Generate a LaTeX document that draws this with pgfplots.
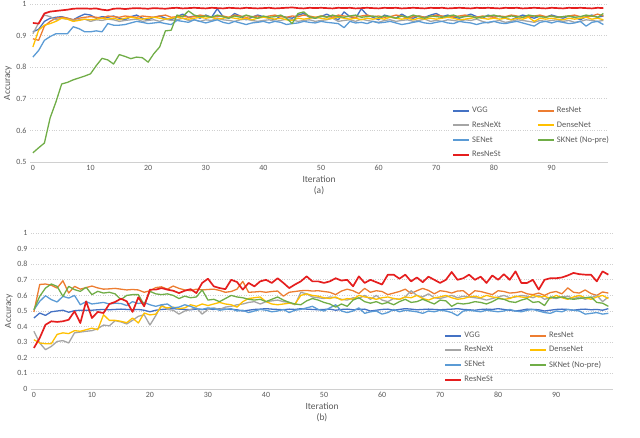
\documentclass[border=0pt]{standalone}
\usepackage{fontspec}
\setmainfont{Carlito}
\usepackage{pgfplots}
\usepackage{pgfplotstable}
\pgfplotsset{compat=1.18}

\definecolor{cVGG}{HTML}{4472C4}
\definecolor{cResNet}{HTML}{ED7D31}
\definecolor{cResNeXt}{HTML}{A5A5A5}
\definecolor{cDense}{HTML}{FFC000}
\definecolor{cSE}{HTML}{5B9BD5}
\definecolor{cSK}{HTML}{70AD47}
\definecolor{cResNeSt}{HTML}{E51E1E}
\definecolor{txt}{HTML}{595959}
\definecolor{gridc}{HTML}{D0D0D0}

% panel (a): accuracy per iteration
\pgfplotstableread{
it vgg resnet resnext dense senet sknet resnest
0 .912 .890 .906 .864 .832 .529 .940
1 .920 .885 .940 .917 .853 .545 .938
2 .945 .930 .965 .933 .885 .560 .970
3 .955 .945 .960 .938 .897 .640 .976
4 .958 .955 .950 .945 .906 .690 .978
5 .960 .958 .955 .955 .906 .747 .980
6 .955 .955 .952 .952 .906 .752 .982
7 .950 .950 .948 .945 .928 .760 .985
8 .960 .955 .950 .948 .922 .766 .986
9 .968 .958 .952 .952 .912 .772 .986
10 .965 .960 .945 .950 .912 .779 .985
11 .955 .958 .950 .952 .915 .805 .986
12 .960 .955 .948 .955 .912 .828 .982
13 .958 .962 .952 .952 .938 .823 .980
14 .962 .960 .950 .955 .933 .810 .985
15 .955 .958 .945 .950 .933 .840 .986
16 .950 .962 .948 .955 .935 .834 .984
17 .960 .960 .950 .958 .940 .827 .986
18 .965 .958 .952 .955 .945 .832 .987
19 .955 .962 .945 .952 .942 .830 .986
20 .950 .960 .948 .955 .938 .816 .985
21 .958 .958 .950 .958 .940 .843 .987
22 .962 .962 .945 .955 .942 .864 .986
23 .955 .965 .952 .952 .938 .915 .985
24 .950 .958 .948 .955 .935 .917 .987
25 .960 .960 .950 .958 .948 .965 .988
26 .968 .962 .955 .955 .945 .960 .986
27 .958 .958 .948 .952 .942 .978 .987
28 .962 .960 .950 .955 .950 .965 .988
29 .955 .965 .945 .958 .945 .960 .987
30 .965 .962 .950 .955 .940 .962 .986
31 .958 .958 .948 .958 .945 .958 .988
32 .985 .960 .955 .952 .950 .965 .987
33 .960 .962 .950 .955 .942 .960 .986
34 .955 .958 .948 .958 .938 .955 .988
35 .970 .965 .945 .955 .945 .962 .987
36 .962 .962 .950 .952 .940 .958 .986
37 .950 .958 .952 .955 .935 .965 .988
38 .958 .960 .948 .950 .940 .960 .987
39 .965 .962 .945 .955 .942 .955 .986
40 .960 .958 .948 .958 .945 .962 .987
41 .955 .962 .950 .955 .940 .958 .988
42 .950 .965 .945 .952 .945 .960 .986
43 .962 .960 .948 .955 .942 .965 .987
44 .958 .958 .952 .950 .935 .955 .988
45 .955 .962 .950 .948 .938 .938 .989
46 .965 .960 .945 .955 .940 .970 .987
47 .970 .965 .948 .952 .945 .975 .986
48 .958 .962 .950 .955 .942 .960 .988
49 .955 .958 .945 .958 .940 .955 .987
50 .960 .962 .948 .955 .945 .962 .988
51 .968 .960 .950 .952 .942 .958 .987
52 .958 .958 .955 .955 .940 .965 .986
53 .950 .965 .945 .958 .938 .960 .988
54 .975 .962 .948 .955 .925 .958 .987
55 .960 .960 .950 .952 .945 .962 .988
56 .955 .958 .945 .955 .940 .965 .986
57 .985 .962 .952 .950 .942 .958 .987
58 .965 .965 .948 .955 .938 .960 .988
59 .958 .960 .945 .952 .945 .962 .987
60 .950 .962 .942 .955 .940 .958 .986
61 .965 .958 .948 .952 .942 .962 .988
62 .960 .960 .950 .958 .945 .960 .987
63 .955 .965 .945 .955 .940 .955 .988
64 .968 .962 .948 .952 .935 .962 .986
65 .958 .955 .950 .955 .938 .958 .987
66 .955 .960 .945 .950 .942 .965 .988
67 .962 .962 .948 .955 .945 .960 .987
68 .958 .958 .952 .952 .940 .955 .986
69 .965 .960 .945 .955 .938 .962 .988
70 .970 .965 .948 .952 .942 .960 .987
71 .960 .962 .945 .955 .945 .958 .988
72 .965 .958 .950 .958 .940 .962 .986
73 .958 .960 .948 .955 .938 .965 .987
74 .955 .962 .945 .950 .945 .958 .988
75 .962 .965 .950 .952 .942 .960 .987
76 .968 .960 .948 .955 .940 .962 .986
77 .960 .958 .952 .958 .935 .955 .988
78 .955 .962 .945 .955 .940 .960 .987
79 .965 .960 .940 .952 .942 .962 .988
80 .958 .958 .945 .955 .945 .965 .987
81 .962 .962 .948 .952 .940 .960 .986
82 .955 .960 .942 .955 .938 .958 .988
83 .950 .965 .945 .950 .942 .962 .987
84 .958 .962 .950 .955 .945 .960 .988
85 .965 .958 .948 .952 .940 .958 .986
86 .960 .960 .945 .958 .935 .965 .987
87 .955 .962 .942 .945 .930 .962 .988
88 .962 .965 .948 .955 .942 .960 .987
89 .958 .960 .945 .952 .945 .958 .986
90 .965 .962 .948 .955 .940 .962 .988
91 .960 .958 .950 .952 .945 .958 .987
92 .955 .960 .945 .950 .942 .960 .986
93 .962 .962 .948 .955 .938 .962 .988
94 .958 .965 .942 .952 .940 .958 .987
95 .950 .960 .945 .955 .945 .960 .988
96 .960 .958 .950 .958 .930 .965 .987
97 .965 .962 .948 .952 .942 .962 .986
98 .958 .968 .945 .955 .945 .958 .988
99 .962 .962 .948 .950 .935 .970 .987
}\tabA

% panel (b)
\pgfplotstableread{
it vgg resnet resnext dense senet sknet resnest
0 .455 .494 .370 .316 .508 .508 .263
1 .487 .670 .295 .295 .562 .594 .327
2 .472 .673 .252 .290 .598 .647 .412
3 .495 .665 .273 .290 .573 .673 .434
4 .500 .647 .305 .350 .558 .658 .430
5 .505 .694 .310 .360 .594 .594 .434
6 .492 .615 .295 .355 .583 .658 .444
7 .502 .658 .360 .374 .600 .637 .498
8 .505 .640 .365 .370 .540 .626 .423
9 .505 .650 .370 .380 .560 .652 .562
10 .505 .660 .374 .390 .545 .605 .455
11 .508 .648 .387 .380 .550 .626 .494
12 .510 .640 .410 .476 .555 .615 .487
13 .508 .642 .405 .440 .545 .620 .545
14 .510 .645 .438 .440 .550 .610 .558
15 .512 .640 .430 .434 .548 .573 .579
16 .510 .635 .417 .425 .535 .600 .562
17 .508 .638 .440 .455 .560 .605 .494
18 .510 .635 .466 .423 .548 .605 .588
19 .505 .620 .476 .487 .555 .540 .530
20 .495 .630 .410 .475 .540 .626 .637
21 .505 .650 .470 .480 .530 .610 .637
22 .510 .655 .540 .530 .540 .605 .647
23 .512 .640 .510 .520 .545 .610 .637
24 .515 .660 .505 .525 .520 .600 .630
25 .512 .645 .480 .515 .525 .580 .615
26 .510 .635 .500 .520 .540 .595 .630
27 .508 .630 .510 .540 .530 .585 .640
28 .512 .640 .520 .530 .515 .590 .615
29 .510 .635 .480 .545 .510 .635 .680
30 .512 .638 .510 .535 .520 .570 .707
31 .510 .640 .520 .545 .515 .575 .658
32 .515 .632 .510 .555 .505 .560 .647
33 .512 .620 .525 .545 .510 .580 .640
34 .510 .625 .530 .540 .515 .600 .700
35 .508 .640 .540 .525 .500 .590 .686
36 .500 .690 .545 .560 .505 .585 .637
37 .505 .620 .555 .580 .490 .575 .680
38 .510 .622 .560 .585 .500 .570 .658
39 .512 .625 .545 .590 .510 .575 .690
40 .515 .620 .560 .560 .505 .560 .700
41 .512 .625 .565 .545 .495 .575 .680
42 .510 .628 .570 .540 .500 .590 .710
43 .508 .595 .560 .545 .510 .570 .680
44 .512 .620 .555 .550 .490 .555 .647
45 .510 .625 .540 .545 .505 .545 .670
46 .515 .630 .620 .600 .510 .540 .690
47 .512 .632 .610 .610 .520 .565 .722
48 .510 .628 .590 .600 .530 .580 .690
49 .508 .630 .585 .595 .510 .570 .690
50 .510 .625 .580 .585 .500 .555 .680
51 .512 .620 .590 .580 .520 .545 .690
52 .505 .605 .585 .590 .540 .525 .710
53 .510 .628 .575 .570 .500 .545 .695
54 .512 .640 .570 .580 .490 .530 .700
55 .508 .630 .585 .575 .500 .570 .658
56 .510 .612 .580 .600 .520 .585 .722
57 .512 .645 .600 .590 .485 .560 .680
58 .500 .620 .575 .585 .495 .550 .700
59 .505 .630 .600 .575 .500 .560 .685
60 .510 .625 .570 .585 .480 .545 .670
61 .512 .605 .560 .590 .490 .555 .733
62 .505 .615 .580 .580 .510 .540 .733
63 .510 .625 .575 .575 .495 .560 .707
64 .515 .640 .590 .590 .505 .575 .733
65 .512 .612 .630 .585 .500 .555 .690
66 .508 .630 .600 .600 .495 .560 .715
67 .510 .645 .590 .580 .485 .575 .685
68 .512 .632 .610 .570 .500 .560 .720
69 .510 .610 .585 .585 .495 .545 .700
70 .508 .630 .580 .590 .505 .570 .680
71 .510 .625 .590 .600 .500 .565 .700
72 .512 .615 .600 .585 .490 .530 .750
73 .515 .628 .585 .575 .470 .550 .700
74 .510 .630 .595 .580 .500 .545 .710
75 .508 .600 .590 .590 .505 .550 .733
76 .505 .630 .585 .595 .500 .560 .700
77 .510 .625 .580 .585 .495 .555 .720
78 .512 .615 .570 .600 .505 .545 .680
79 .510 .605 .580 .590 .500 .560 .728
80 .515 .630 .590 .585 .495 .580 .700
81 .510 .625 .600 .575 .500 .575 .736
82 .505 .615 .585 .580 .510 .560 .700
83 .500 .618 .590 .595 .500 .555 .754
84 .505 .625 .600 .590 .495 .570 .680
85 .512 .610 .595 .585 .505 .580 .680
86 .510 .605 .585 .600 .510 .555 .700
87 .508 .615 .600 .590 .500 .560 .637
88 .500 .600 .575 .595 .490 .535 .700
89 .505 .618 .585 .580 .485 .590 .710
90 .510 .625 .580 .600 .500 .585 .710
91 .512 .610 .590 .585 .495 .590 .715
92 .510 .648 .595 .575 .510 .580 .728
93 .505 .620 .580 .590 .505 .575 .744
94 .510 .615 .590 .600 .500 .580 .736
95 .512 .635 .575 .585 .480 .585 .733
96 .508 .612 .585 .575 .485 .590 .733
97 .510 .600 .600 .590 .490 .555 .690
98 .505 .622 .560 .600 .480 .550 .754
99 .515 .615 .590 .580 .485 .530 .733
}\tabB

\pgfplotsset{
  panel/.style={
    scale only axis,
    xmin=-0.5, xmax=99.8,
    axis lines*=left,
    x axis line style={draw=gridc, line width=0.8pt, -},
    y axis line style={draw=none},
    xtick={0,10,...,90},
    major tick length=0pt,
    ymajorgrids,
    grid style={gridc, dotted, line width=0.7pt},
    tick label style={font=\fontsize{8}{9}\selectfont, text=txt},
    /pgf/number format/assume math mode=true,
    label style={font=\fontsize{9.5}{11}\selectfont, text=txt},
    ylabel={Accuracy},
    ylabel style={yshift=-2bp},
    xlabel style={align=center, yshift=2bp},
    legend columns=2,
    legend cell align=left,
    legend style={draw=none, fill=none, anchor=north west,
      font=\fontsize{8.5}{10}\selectfont,
      /tikz/every even column/.append style={column sep=34bp},
      row sep=3.5bp},
    legend image code/.code={%
      \draw[#1, line width=2pt] (0bp,0bp) -- (16bp,0bp);},
    every axis plot/.append style={line width=1.3pt, line join=round},
  },
}
\newcommand{\lt}[1]{\textcolor{txt}{#1}}

\begin{document}
\begin{tikzpicture}
\useasboundingbox (-30bp,-276bp) rectangle (610bp,162bp);
\begin{axis}[panel,
  width=578bp, height=158bp,
  ymin=0.5, ymax=1, ytick={0.5,0.6,...,1.01},
  xlabel={Iteration\\(a)},
  legend style={at={(0.725,0.372)}},
]
\addplot[color=cVGG] table[x=it, y=vgg] {\tabA};
\addplot[color=cResNet] table[x=it, y=resnet] {\tabA};
\addplot[color=cResNeXt] table[x=it, y=resnext] {\tabA};
\addplot[color=cDense] table[x=it, y=dense] {\tabA};
\addplot[color=cSE] table[x=it, y=senet] {\tabA};
\addplot[color=cSK] table[x=it, y=sknet] {\tabA};
\addplot[color=cResNeSt, line width=1.7pt] table[x=it, y=resnest] {\tabA};
\legend{\lt{VGG}, \lt{ResNet}, \lt{ResNeXt}, \lt{DenseNet}, \lt{SENet}, \lt{SKNet (No-pre)}, \lt{ResNeSt}}
\end{axis}

\begin{axis}[panel, at={(1bp,-227bp)},
  width=582bp, height=156bp,
  ymin=0, ymax=1, ytick={0,0.1,...,1.01},
  xlabel={Iteration\\(b)},
  legend style={at={(0.705,0.392)}},
]
\addplot[color=cVGG] table[x=it, y=vgg] {\tabB};
\addplot[color=cResNet] table[x=it, y=resnet] {\tabB};
\addplot[color=cResNeXt] table[x=it, y=resnext] {\tabB};
\addplot[color=cDense] table[x=it, y=dense] {\tabB};
\addplot[color=cSE] table[x=it, y=senet] {\tabB};
\addplot[color=cSK] table[x=it, y=sknet] {\tabB};
\addplot[color=cResNeSt, line width=1.7pt] table[x=it, y=resnest] {\tabB};
\legend{\lt{VGG}, \lt{ResNet}, \lt{ResNeXt}, \lt{DenseNet}, \lt{SENet}, \lt{SKNet (No-pre)}, \lt{ResNeSt}}
\end{axis}
\end{tikzpicture}
\end{document}
